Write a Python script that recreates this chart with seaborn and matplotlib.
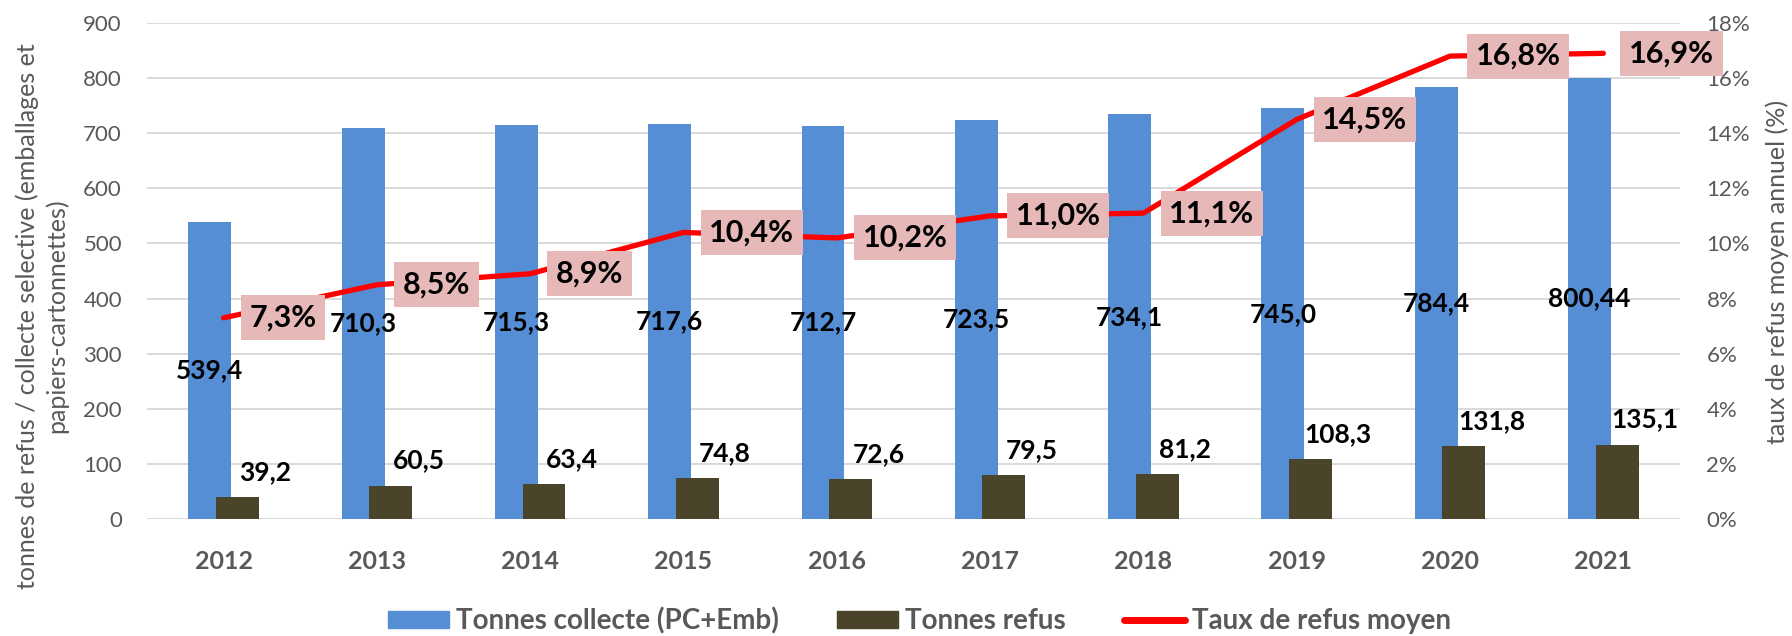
import numpy as np
import pandas as pd
import seaborn as sns
import matplotlib.pyplot as plt
from matplotlib.patches import Patch
from matplotlib.lines import Line2D

# Data
years = np.array([2012, 2013, 2014, 2015, 2016, 2017, 2018, 2019, 2020, 2021])
collecte = [539.4, 710.3, 715.3, 717.6, 712.7, 723.5, 734.1, 745.0, 784.4, 800.44]
refus = [39.2, 60.5, 63.4, 74.8, 72.6, 79.5, 81.2, 108.3, 131.8, 135.1]
taux = [7.3, 8.5, 8.9, 10.4, 10.2, 11.0, 11.1, 14.5, 16.8, 16.9]
collecte_labels = ['539,4', '710,3', '715,3', '717,6', '712,7', '723,5', '734,1', '745,0', '784,4', '800,44']
refus_labels = ['39,2', '60,5', '63,4', '74,8', '72,6', '79,5', '81,2', '108,3', '131,8', '135,1']
taux_labels = ['7,3%', '8,5%', '8,9%', '10,4%', '10,2%', '11,0%', '11,1%', '14,5%', '16,8%', '16,9%']

BLUE = '#558ED5'
DARK = '#4A452A'
PINK = '#E6B9B8'
GREY = '#595959'

sns.set_style('white')
plt.rcParams['font.family'] = ['Lato', 'DejaVu Sans']

df = pd.DataFrame({'year': years, 'collecte': collecte, 'refus': refus, 'taux': taux})

fig = plt.figure(figsize=(17.92, 6.36), dpi=100)
ax = fig.add_axes([0.082, 0.184, 0.8555, 0.7798])
ax2 = ax.twinx()

# overlapping bars, offset a little from the category centre
shift = 0.09
sns.barplot(x=df['year'] - shift, y=df['collecte'], native_scale=True, width=0.28,
            color=BLUE, saturation=1, linewidth=0, ax=ax, zorder=2)
sns.barplot(x=df['year'] + shift, y=df['refus'], native_scale=True, width=0.28,
            color=DARK, saturation=1, linewidth=0, ax=ax, zorder=3)

sns.lineplot(x=df['year'], y=df['taux'], ax=ax2, color='#FF0000', lw=3.8, zorder=4)

# axes styling
ax.set_xlim(2011.5, 2021.5)
ax.set_ylim(0, 900)
ax.set_yticks(range(0, 901, 100))
ax2.set_ylim(0, 18)
ax2.set_yticks(range(0, 19, 2))
ax2.set_yticklabels([f'{t}%' for t in range(0, 19, 2)])
ax.set_xticks(years)
ax.set_xticklabels([str(y) for y in years], fontsize=18, fontweight='bold', color=GREY)
ax.grid(axis='y', color='#D9D9D9', lw=1.4, zorder=0)
ax.set_axisbelow(True)
ax2.grid(False)
for a in (ax, ax2):
    for s in a.spines.values():
        s.set_visible(False)
    a.set_xlabel('')
    a.set_ylabel('')
ax.tick_params(axis='x', length=0, pad=22)
ax.tick_params(axis='y', length=0, pad=18, labelsize=16, labelcolor=GREY)
ax2.tick_params(axis='y', length=0, pad=19, labelsize=16, labelcolor=GREY)

# value labels
for y, v, lab in zip(years, collecte, collecte_labels):
    ax.text(y - shift, v / 2, lab, ha='center', va='center', fontsize=19,
            fontweight='bold', color='black', zorder=5)
for y, v, lab in zip(years, refus, refus_labels):
    ax.annotate(lab, xy=(y + shift, v), xytext=(20, 18), textcoords='offset points',
                ha='center', va='center', fontsize=19, fontweight='bold', color='black')
for y, v, lab in zip(years, taux, taux_labels):
    ax2.annotate(lab, xy=(y, v), xytext=(18.5, 0), textcoords='offset points',
                 ha='left', va='center', fontsize=22, fontweight='bold', color='black',
                 bbox=dict(boxstyle='square,pad=0.28', fc=PINK, ec='none'),
                 annotation_clip=False, zorder=6)

# axis titles
fig.text(0.0234, 0.503, 'tonnes de refus / collecte selective (emballages et\npapiers-cartonnettes)',
         rotation=90, ha='center', va='center', multialignment='center',
         fontsize=18, color=GREY, linespacing=1.3)
fig.text(0.992, 0.573, 'taux de refus moyen annuel (%)', rotation=90,
         ha='center', va='center', fontsize=18, color=GREY)

handles = [Patch(color=BLUE), Patch(color=DARK), Line2D([], [], color='#FF0000', lw=5)]
labels = ['Tonnes collecte (PC+Emb)', 'Tonnes refus', 'Taux de refus moyen']
fig.legend(handles, labels, loc='center', bbox_to_anchor=(0.513, 0.024), ncol=3,
           frameon=False, handlelength=2.2, handleheight=0.6, handletextpad=0.25,
           columnspacing=2.1, prop={'size': 20, 'weight': 'bold'}, labelcolor=GREY)

fig.savefig('out.png', dpi=100)
